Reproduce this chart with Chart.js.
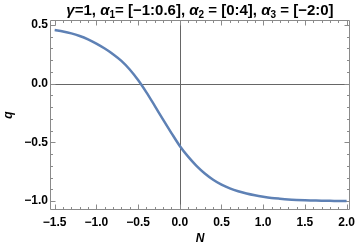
<!DOCTYPE html>
<html>
<head>
<meta charset="utf-8">
<script src="https://cdn.jsdelivr.net/npm/chart.js@4.4.1/dist/chart.umd.min.js"></script>
<style>
  html, body { margin: 0; padding: 0; background: #ffffff; }
  #wrap { width: 360px; height: 248px; }
</style>
</head>
<body>
<div id="wrap"><canvas id="c" width="360" height="248"></canvas></div>
<script>
// ---- data ----
const nValues = [-1.5, -1.4, -1.3, -1.2, -1.1, -1.0, -0.9, -0.8, -0.7, -0.6, -0.5, -0.4, -0.3, -0.2, -0.1,
                 0.0, 0.1, 0.2, 0.3, 0.4, 0.5, 0.6, 0.7, 0.8, 0.9, 1.0, 1.1, 1.2, 1.3, 1.4, 1.5, 1.6, 1.7, 1.8, 1.9, 2.0];
const qValues = [0.455, 0.443, 0.427, 0.405, 0.376, 0.340, 0.298, 0.250, 0.193, 0.120, 0.030, -0.075, -0.190, -0.307, -0.421,
                 -0.531, -0.622, -0.700, -0.765, -0.818, -0.860, -0.892, -0.917, -0.936, -0.951, -0.963, -0.973, -0.980, -0.986, -0.990,
                 -0.993, -0.995, -0.997, -0.998, -0.999, -1.000];
const xTicks = [-1.5, -1.0, -0.5, 0.0, 0.5, 1.0, 1.5, 2.0];
const yTicks = [-1.0, -0.5, 0.0, 0.5];
const xMinorTicks = [-1.5, -1.4, -1.3, -1.2, -1.1, -1.0, -0.9, -0.8, -0.7, -0.6, -0.5, -0.4, -0.3, -0.2, -0.1,
                     0.0, 0.1, 0.2, 0.3, 0.4, 0.5, 0.6, 0.7, 0.8, 0.9, 1.0, 1.1, 1.2, 1.3, 1.4, 1.5, 1.6, 1.7, 1.8, 1.9, 2.0];
const yMinorTicks = [-1.0, -0.9, -0.8, -0.7, -0.6, -0.5, -0.4, -0.3, -0.2, -0.1, 0.0, 0.1, 0.2, 0.3, 0.4, 0.5];
// title pieces: [text, kind]  kind: 'i' italic, 'n' normal, 's' subscript
const titleParts = [['γ', 'i'], ['=1, ', 'n'], ['α', 'i'], ['1', 's'], ['= [−1:0.6], ', 'n'],
                    ['α', 'i'], ['2', 's'], [' = [0:4], ', 'n'], ['α', 'i'], ['3', 's'], [' = [−2:0]', 'n']];
const xTitle = 'N';
const yTitle = 'q';

function fmt(v) {
  const s = Math.abs(v).toFixed(1);
  return (v < -1e-9 ? '\u2212' : '') + s;
}

const FAM = '"Liberation Sans", Arial, sans-serif';
const frameColor = '#8a8a8a';
const zeroColor = '#666666';

const titlePlugin = {
  id: 'mmaTitle',
  afterDraw(chart) {
    const ctx = chart.ctx;
    const a = chart.chartArea;
    const fonts = {
      n: 'bold 15px ' + FAM,
      i: 'italic bold 15px ' + FAM,
      s: 'bold 10px ' + FAM
    };
    ctx.save();
    ctx.fillStyle = '#000000';
    ctx.textBaseline = 'alphabetic';
    ctx.textAlign = 'left';
    let total = 0;
    const widths = titleParts.map(([t, k]) => { ctx.font = fonts[k]; const w = ctx.measureText(t).width; total += w; return w; });
    let x = (a.left + a.right) / 2 - total / 2;
    const base = 15;
    titleParts.forEach(([t, k], i) => {
      ctx.font = fonts[k];
      ctx.fillText(t, x, k === 's' ? base + 2.5 : base);
      x += widths[i];
    });
    ctx.restore();
  }
};

const framePlugin = {
  id: 'mmaFrame',
  beforeDatasetsDraw(chart) {
    const ctx = chart.ctx;
    const a = chart.chartArea;
    const xs = chart.scales.x, ys = chart.scales.y;
    ctx.save();
    ctx.strokeStyle = zeroColor;
    ctx.lineWidth = 1;
    const y0 = Math.round(ys.getPixelForValue(0)) + 0.5;
    const x0 = Math.round(xs.getPixelForValue(0)) + 0.5;
    ctx.beginPath();
    ctx.moveTo(a.left, y0); ctx.lineTo(a.right, y0);
    ctx.moveTo(x0, a.top); ctx.lineTo(x0, a.bottom);
    ctx.stroke();
    ctx.strokeStyle = frameColor;
    const L = Math.round(a.left) + 0.5, R = Math.round(a.right) - 0.5;
    const T = Math.round(a.top) + 0.5, B = Math.round(a.bottom) - 0.5;
    ctx.beginPath();
    ctx.rect(L, T, R - L, B - T);
    ctx.stroke();
    ctx.beginPath();
    const isMajor = (v, arr) => arr.some(t => Math.abs(t - v) < 1e-6);
    xMinorTicks.forEach(v => {
      const len = isMajor(v, xTicks) ? 5 : 2.5;
      const px = Math.round(xs.getPixelForValue(v)) + 0.5;
      ctx.moveTo(px, B); ctx.lineTo(px, B - len);
      ctx.moveTo(px, T); ctx.lineTo(px, T + len);
    });
    yMinorTicks.forEach(v => {
      const len = isMajor(v, yTicks) ? 5 : 2.5;
      const py = Math.round(ys.getPixelForValue(v)) + 0.5;
      ctx.moveTo(L, py); ctx.lineTo(L + len, py);
      ctx.moveTo(R, py); ctx.lineTo(R - len, py);
    });
    ctx.stroke();
    ctx.restore();
  }
};

const tickFont = { family: FAM, size: 12, weight: 'bold' };

new Chart(document.getElementById('c'), {
  type: 'scatter',
  data: {
    datasets: [{
      data: nValues.map((n, i) => ({ x: n, y: qValues[i] })),
      showLine: true,
      borderColor: '#5e81b5',
      borderWidth: 2.5,
      pointRadius: 0,
      cubicInterpolationMode: 'monotone',
      fill: false
    }]
  },
  options: {
    responsive: false,
    animation: false,
    devicePixelRatio: 1,
    layout: { padding: { left: 0, right: 5, top: 20, bottom: 0 } },
    plugins: {
      legend: { display: false },
      tooltip: { enabled: false },
      title: { display: false }
    },
    scales: {
      x: {
        type: 'linear',
        min: -1.556,
        max: 2.04,
        grid: { display: false, drawTicks: false },
        border: { display: false },
        afterBuildTicks: s => { s.ticks = xTicks.map(v => ({ value: v })); },
        afterFit: s => { s.height = 38; },
        ticks: { color: '#000000', font: tickFont, padding: 5, maxRotation: 0, autoSkip: false,
                 callback: v => fmt(v) },
        title: { display: true, text: xTitle, color: '#000000', padding: { top: 2, bottom: 2 },
                 font: { family: FAM, size: 12, weight: 'bold', style: 'italic' } }
      },
      y: {
        type: 'linear',
        min: -1.076,
        max: 0.541,
        grid: { display: false, drawTicks: false },
        border: { display: false },
        afterBuildTicks: s => { s.ticks = yTicks.map(v => ({ value: v })); },
        afterFit: s => { s.width = 50; },
        ticks: { color: '#000000', font: tickFont, padding: 2, autoSkip: false,
                 callback: v => fmt(v) },
        title: { display: true, text: yTitle, color: '#000000', padding: { top: 1, bottom: 0 },
                 font: { family: FAM, size: 12, weight: 'bold', style: 'italic' } }
      }
    }
  },
  plugins: [framePlugin, titlePlugin]
});
</script>
</body>
</html>
